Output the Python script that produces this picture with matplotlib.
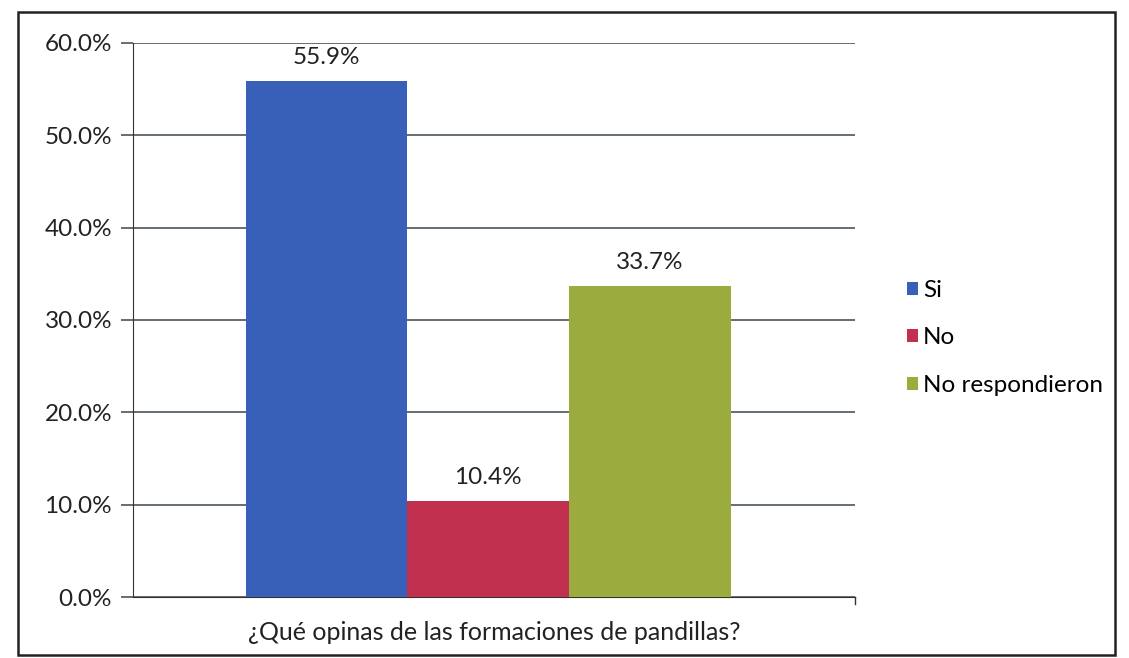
import matplotlib.pyplot as plt
from matplotlib.patches import Rectangle
from matplotlib.ticker import FuncFormatter
import numpy as np

# Chart data
CATEGORY = '¿Qué opinas de las formaciones de pandillas?'
SERIES = ['Si', 'No', 'No respondieron']
VALUES = [55.9, 10.4, 33.7]
COLORS = ['#3860b8', '#c2304f', '#9bab3e']
Y_TICKS = [0, 10, 20, 30, 40, 50, 60]

plt.rcParams['font.family'] = ['Lato', 'DejaVu Sans']

fig = plt.figure(figsize=(11.29, 6.58), dpi=100)
ax = fig.add_axes([0.1178, 0.0927, 0.6395, 0.842])

# Bars side by side in one group
width = 0.224
offsets = (np.arange(len(SERIES)) - 1) * width
for off, val, col, name in zip(offsets, VALUES, COLORS, SERIES):
    ax.bar(off, val, width=width, color=col, label=name, zorder=3)
    ax.text(off, val + 1.4, f'{val:.1f}%', ha='center', va='bottom',
            fontsize=17.5, color='#222222')

ax.set_xlim(-0.492, 0.508)
ax.set_ylim(0, 60)
ax.set_yticks(Y_TICKS)
ax.yaxis.set_major_formatter(FuncFormatter(lambda v, p: f'{v:.1f}%'))
ax.grid(axis='y', color='#3a4650', linewidth=1.1, zorder=0)
ax.set_xticks([])
ax.set_xlabel(CATEGORY, fontsize=18, labelpad=17, color='#222222')

for s in ['top', 'right']:
    ax.spines[s].set_visible(False)
ax.spines['left'].set_color('#333333')
ax.spines['bottom'].set_color('#333333')
ax.tick_params(axis='y', length=9, width=1.1, color='#3a4650',
               labelsize=17.5, labelcolor='#222222', pad=6)

# small tick at the right end of the category axis
ax.plot([0.508, 0.508], [0, -0.8], color='#333333', lw=1, clip_on=False)

leg = ax.legend(loc='center left', bbox_to_anchor=(1.042, 0.4675),
                frameon=False, fontsize=17.5, handlelength=0.45,
                handleheight=0.45, handletextpad=0.2, labelspacing=1.1)

# outer frame of the chart
fig.patches.append(Rectangle((0.016, 0.005), 0.972, 0.977,
                             transform=fig.transFigure, fill=False,
                             edgecolor='#222222', linewidth=1.8))

fig.savefig('out.png', dpi=100)
